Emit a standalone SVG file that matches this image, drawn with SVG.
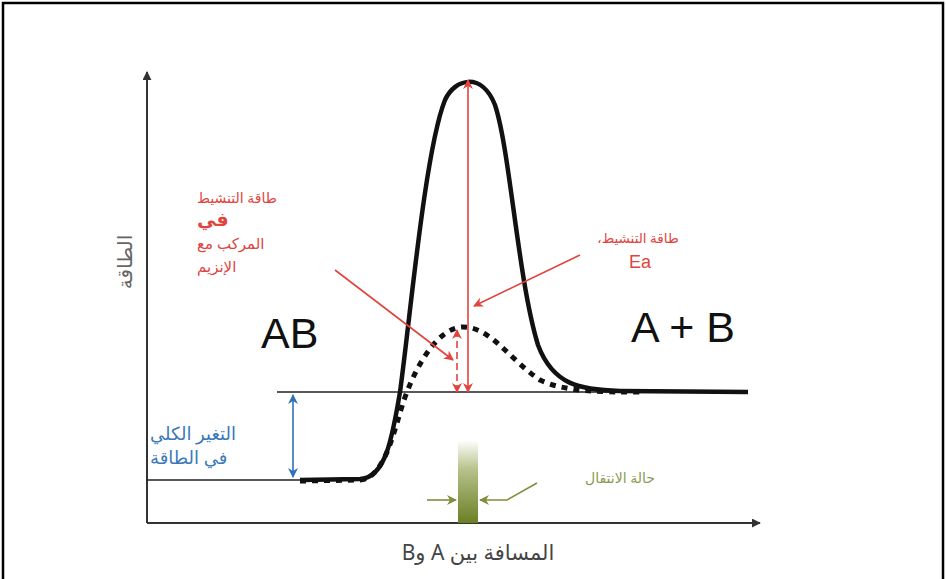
<svg xmlns="http://www.w3.org/2000/svg" width="946" height="579" viewBox="0 0 946 579">
<defs>
<style>
.ax{stroke:#333;stroke-width:2;fill:none}
.thin{stroke:#222;stroke-width:1.3;fill:none}
.red{stroke:#e0443e;stroke-width:1.6;fill:none}
.ar{font-family:"Noto Sans","DejaVu Sans",sans-serif}
.big{font-family:"Liberation Sans",Arial,sans-serif;font-size:43px;fill:#111}
</style>
<marker id="ak" viewBox="0 0 10 10" refX="9" refY="5" markerWidth="9" markerHeight="9" markerUnits="userSpaceOnUse" orient="auto-start-reverse"><path d="M0,0 L10,5 L0,10 z" fill="#333"/></marker>
<marker id="rd" viewBox="0 0 10 10" refX="9" refY="5" markerWidth="10" markerHeight="10" markerUnits="userSpaceOnUse" orient="auto-start-reverse"><path d="M0,0 L10,5 L0,10 L3,5 z" fill="#e0443e"/></marker>
<marker id="bl" viewBox="0 0 10 10" refX="9" refY="5" markerWidth="10" markerHeight="10" markerUnits="userSpaceOnUse" orient="auto-start-reverse"><path d="M0,0 L10,5 L0,10 L3,5 z" fill="#2e72b8"/></marker>
<marker id="gr" viewBox="0 0 10 10" refX="9" refY="5" markerWidth="10" markerHeight="10" markerUnits="userSpaceOnUse" orient="auto"><path d="M0,0 L10,5 L0,10 L3,5 z" fill="#7d8f3c"/></marker>
<linearGradient id="gbar" x1="0" y1="0" x2="0" y2="1"><stop offset="0" stop-color="#ffffff"/><stop offset="0.35" stop-color="#b7c28c"/><stop offset="1" stop-color="#6b7f24"/></linearGradient>
</defs>
<rect x="0" y="0" width="946" height="579" fill="#fff"/>
<rect x="3" y="3" width="940" height="600" fill="none" stroke="#000" stroke-width="2.5"/>

<g id="axes">
<line class="ax" x1="147" y1="523" x2="147" y2="72" marker-end="url(#ak)"/>
<line class="ax" x1="147" y1="523" x2="760" y2="523" marker-end="url(#ak)"/>
<text class="ar" direction="rtl" transform="translate(132,262) rotate(-90)" text-anchor="middle" font-size="20" fill="#666">الطاقة</text>
<text class="ar" direction="rtl" x="478" y="560" text-anchor="middle" font-size="21" fill="#444">المسافة بين A وB</text>
</g>

<g id="levels">
<line class="thin" x1="147" y1="480" x2="300" y2="480"/>
<line class="thin" x1="277" y1="392" x2="748" y2="392"/>
</g>

<g id="transition-state">
<rect x="458" y="440" width="20" height="83" fill="url(#gbar)"/>
<text class="ar" direction="rtl" x="620" y="483" text-anchor="middle" font-size="14" fill="#8a9a50">حالة الانتقال</text>
</g>

<g id="curves">
<path d="M300,480 L360,479 C385,478 392,440 400,392 C410,320 425,150 445,100 C455,78 482,72 495,105 C510,150 518,280 538,345 C553,385 580,390 620,391 L748,392" fill="none" stroke="#111" stroke-width="4.5"/>
<path d="M300,481 L360,480 C385,478 394,430 404,400 C418,360 440,328 462,327 C490,326 510,360 540,380 C565,392 600,392 640,392" fill="none" stroke="#111" stroke-width="5" stroke-dasharray="6,6"/>
</g>

<g id="labels">
<text class="big" x="261" y="348">AB</text>
<text class="big" x="631" y="342">A + B</text>
<text class="ar" direction="rtl" x="197" y="203" text-anchor="end" font-size="14" fill="#e0443e">طاقة التنشيط</text>
<text class="ar" direction="rtl" x="197" y="226" text-anchor="end" font-size="19" font-weight="bold" fill="#e0443e">في</text>
<text class="ar" direction="rtl" x="197" y="249" text-anchor="end" font-size="15" fill="#e0443e">المركب مع</text>
<text class="ar" direction="rtl" x="197" y="272" text-anchor="end" font-size="15" fill="#e0443e">الإنزيم</text>
<text class="ar" direction="rtl" x="638" y="243" text-anchor="middle" font-size="13.5" fill="#e0443e">طاقة التنشيط،</text>
<text x="640" y="268" text-anchor="middle" font-family="Liberation Sans,Arial,sans-serif" font-size="18" fill="#e0443e">Ea</text>
<text class="ar" direction="rtl" x="150" y="440" text-anchor="end" font-size="18" fill="#3a78b8">التغير الكلي</text>
<text class="ar" direction="rtl" x="150" y="464" text-anchor="end" font-size="18" fill="#3a78b8">في الطاقة</text>
</g>

<g id="connectors">
<line class="red" x1="468" y1="392" x2="468" y2="80" marker-start="url(#rd)" marker-end="url(#rd)"/>
<line class="red" x1="457" y1="392" x2="457" y2="330" stroke-dasharray="7,4" marker-start="url(#rd)" marker-end="url(#rd)"/>
<line class="red" x1="580" y1="255" x2="474" y2="306" marker-end="url(#rd)"/>
<line class="red" x1="335" y1="270" x2="453" y2="360" marker-end="url(#rd)"/>
<line x1="293" y1="395" x2="293" y2="477" stroke="#2e72b8" stroke-width="1.6" marker-start="url(#bl)" marker-end="url(#bl)"/>
<line x1="427" y1="500" x2="456" y2="500" stroke="#7d8f3c" stroke-width="1.6" marker-end="url(#gr)"/>
<polyline points="537,483 507,500 480,500" fill="none" stroke="#7d8f3c" stroke-width="1.6" marker-end="url(#gr)"/>
</g>
</svg>
